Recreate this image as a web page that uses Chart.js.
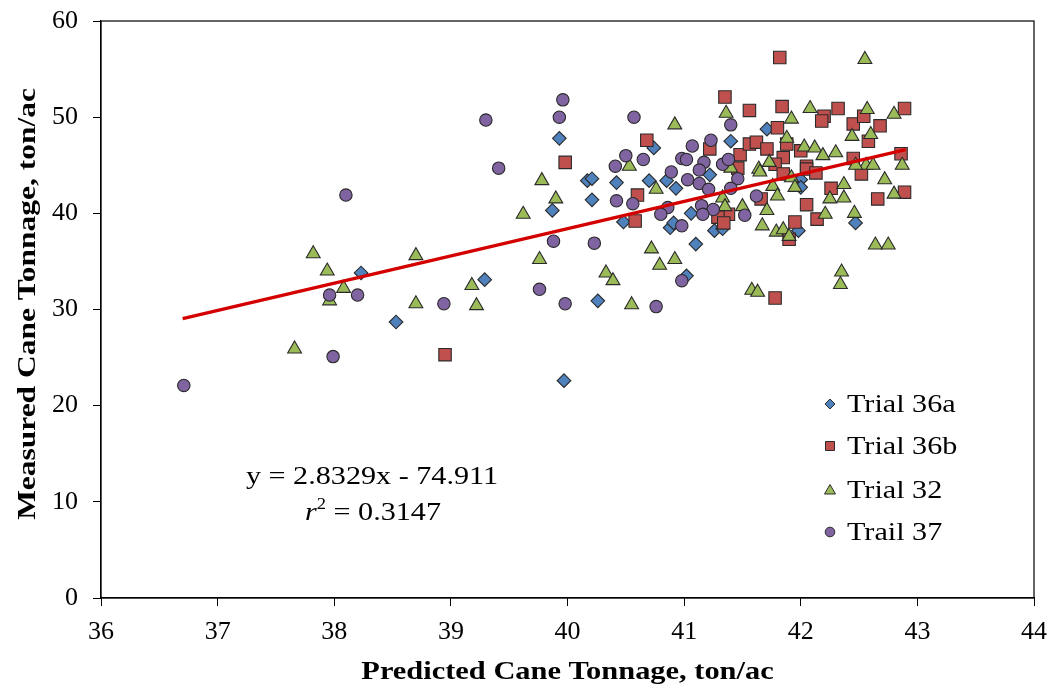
<!DOCTYPE html>
<html><head><meta charset="utf-8">
<script src="https://cdn.jsdelivr.net/npm/chart.js@4.4.0/dist/chart.umd.min.js"></script>
<style>html,body{margin:0;padding:0;background:#fff}#wrap{width:1054px;height:693px}</style>
</head><body><div id="wrap"><canvas id="c" width="1054" height="693"></canvas></div>
<script>
// ---- data ----
const xTicks = [36, 37, 38, 39, 40, 41, 42, 43, 44];
const yTicks = [0, 10, 20, 30, 40, 50, 60];

const t36aX = [38.23,38.53,39.29,39.97,40.26,39.93,39.87,40.17,40.21,40.21,40.42,40.48,40.74,40.70,40.85,40.93,41.22,41.40,41.06,40.88,40.91,41.26,41.33,41.10,41.02,41.71,42.00,42.00,41.98,42.47];
const t36aY = [33.8,28.7,33.1,22.6,30.9,47.8,40.3,43.4,43.6,41.4,43.2,39.1,46.8,43.4,43.4,42.6,44.0,47.5,40.0,38.5,39.0,38.2,38.4,36.8,33.5,48.75,43.5,42.7,38.2,39.0];

const t36bX = [38.95,39.98,40.58,40.60,40.68,41.22,41.35,41.56,41.48,41.56,41.62,41.46,41.38,41.29,41.34,41.82,41.84,42.32,42.20,42.18,42.45,42.54,42.89,42.68,42.58,41.80,41.88,41.71,42.00,41.85,42.45,41.78,42.86,42.05,41.85,42.05,42.13,42.26,42.05,42.14,41.66,41.95,41.90,42.89,42.66,41.78,42.52];
const t36bY = [25.3,45.3,39.2,41.9,47.6,46.7,52.1,50.7,46.1,47.2,47.4,44.7,39.9,39.6,39.0,56.2,51.1,50.9,50.1,49.6,49.3,50.1,50.9,49.1,47.5,48.9,47.2,46.7,46.5,45.8,45.7,45.1,46.2,44.9,44.1,44.6,44.2,42.6,40.9,39.4,41.5,39.1,37.3,42.2,41.5,31.2,44.1];

const t32X = [37.66,37.82,37.94,38.08,37.96,38.70,38.70,39.18,39.22,39.76,39.62,39.78,39.90,40.53,40.92,40.76,41.36,41.40,41.64,41.33,41.35,41.50,40.72,40.92,40.79,40.33,40.39,40.55,41.58,41.63,42.55,42.08,41.92,42.57,42.80,42.60,42.44,41.88,42.03,42.12,42.19,42.30,41.73,42.87,42.56,42.62,42.47,41.65,41.76,41.80,41.92,41.95,42.37,42.37,42.25,42.21,42.46,41.71,41.67,41.79,41.85,41.90,42.72,42.80,42.64,42.75,42.35,42.34];
const t32Y = [25.9,35.8,34.0,32.2,30.9,35.6,30.6,32.5,30.4,35.2,39.9,43.4,41.5,44.9,49.2,42.5,50.4,44.7,44.6,41.6,40.7,40.7,36.3,35.2,34.6,33.8,33.0,30.5,32.0,31.8,56.0,50.9,49.8,50.8,50.3,48.2,48.0,47.8,46.9,46.8,46.0,46.3,45.3,45.0,45.0,45.0,45.0,44.3,42.8,41.8,43.7,42.7,43.0,41.6,41.5,39.9,40.0,40.3,38.7,38.05,38.3,37.6,43.5,42.0,36.7,36.7,33.9,32.6];

const t37X = [36.71,37.96,38.20,37.99,38.10,38.94,39.30,39.41,39.96,39.93,40.57,39.88,40.23,39.76,39.98,40.41,40.50,40.42,40.56,40.65,40.89,41.03,40.98,41.02,41.07,41.17,41.13,41.23,41.13,41.21,41.40,41.33,41.38,41.46,41.40,41.62,41.15,41.25,40.86,40.80,41.52,41.16,40.98,40.98,40.76];
const t37Y = [22.1,31.5,31.5,25.1,41.9,30.6,49.7,44.7,51.8,50.0,50.0,37.1,36.9,32.1,30.6,44.9,46.0,41.3,41.0,45.6,44.3,43.5,45.7,45.6,47.0,45.3,44.5,47.6,43.1,42.5,49.2,45.1,45.6,43.6,42.6,41.8,40.8,40.4,40.6,39.9,39.8,39.9,38.7,33.0,30.3];

const seriesNames = ['Trial 36a', 'Trial 36b', 'Trial 32', 'Trail 37'];
const xTitle = 'Predicted Cane Tonnage, ton/ac';
const yTitle = 'Measured Cane Tonnage, ton/ac';
const trendSlope = 2.8329;
const trendIntercept = -74.911;
const trendXRange = [36.7, 42.9];
const equationText = 'y = 2.8329x - 74.911';
const r2Text = '0.3147';

// ---- build ----
const pts = (xs, ys) => xs.map((x, i) => ({x: x, y: ys[i]}));
const styles = [
  {bg: '#4F81BD', pt: 'rectRot', r: 6.8},
  {bg: '#C0504D', pt: 'rect', r: 8.8},
  {bg: '#9BBB59', pt: 'triangle', r: 8},
  {bg: '#8064A2', pt: 'circle', r: 6.2}
];
const seriesData = [pts(t36aX, t36aY), pts(t36bX, t36bY), pts(t32X, t32Y), pts(t37X, t37Y)];
const orders = [4, 3, 2, 1];
const datasets = seriesData.map((d, i) => ({
  label: seriesNames[i], data: d, type: 'scatter', order: orders[i],
  pointStyle: styles[i].pt, pointRadius: styles[i].r, pointHoverRadius: styles[i].r,
  backgroundColor: styles[i].bg, borderColor: '#2a2a2a', borderWidth: 1.1, showLine: false
}));
datasets.push({
  label: 'trend', type: 'line', order: 0,
  data: trendXRange.map(x => ({x: x, y: trendSlope * x + trendIntercept})),
  borderColor: '#D40000', borderWidth: 3.2, pointRadius: 0, fill: false
});

const SERIF = "'Liberation Serif', 'Times New Roman', serif";
const STRETCH = 1.16;

function stretchedText(ctx, text, x, y, sx, align) {
  ctx.save();
  ctx.translate(x, y);
  ctx.scale(sx, 1);
  ctx.textAlign = align || 'center';
  ctx.fillText(text, 0, 0);
  ctx.restore();
}

const overlay = {
  id: 'overlay',
  afterDraw(chart) {
    const ctx = chart.ctx, a = chart.chartArea;
    ctx.save();
    ctx.strokeStyle = '#000'; ctx.lineWidth = 1.2;
    ctx.strokeRect(a.left, a.top, a.right - a.left, a.bottom - a.top);

    // axis titles
    ctx.fillStyle = '#000';
    ctx.textBaseline = 'middle';
    ctx.font = 'bold 26px ' + SERIF;
    stretchedText(ctx, xTitle, (a.left + a.right) / 2, 672, 1.17);
    ctx.save();
    ctx.translate(28, 304);
    ctx.rotate(-Math.PI / 2);
    stretchedText(ctx, yTitle, 0, 0, 1.21);
    ctx.restore();

    // legend
    const lx = 830, lys = [404, 446, 490, 532];
    ctx.font = '26px ' + SERIF;
    seriesNames.forEach((n, i) => {
      const y = lys[i];
      ctx.beginPath();
      if (i === 0) { const s = 5; ctx.moveTo(lx, y - s); ctx.lineTo(lx + s, y); ctx.lineTo(lx, y + s); ctx.lineTo(lx - s, y); ctx.closePath(); }
      else if (i === 1) { ctx.rect(lx - 4.5, y - 4.5, 9, 9); }
      else if (i === 2) { ctx.moveTo(lx, y - 5.5); ctx.lineTo(lx + 5.5, y + 4); ctx.lineTo(lx - 5.5, y + 4); ctx.closePath(); }
      else { ctx.arc(lx, y, 4.8, 0, Math.PI * 2); }
      ctx.fillStyle = styles[i].bg; ctx.fill();
      ctx.strokeStyle = '#2a2a2a'; ctx.lineWidth = 1; ctx.stroke();
      ctx.fillStyle = '#000';
      stretchedText(ctx, n, 847, y + 1, STRETCH, 'left');
    });

    // equation
    ctx.font = '26px ' + SERIF;
    stretchedText(ctx, equationText, 372, 477, STRETCH, 'center');
    const p1 = 'r', p2 = '2', p3 = ' = ' + r2Text;
    ctx.font = 'italic 26px ' + SERIF; const w1 = ctx.measureText(p1).width * STRETCH;
    ctx.font = '16px ' + SERIF; const w2 = ctx.measureText(p2).width * STRETCH;
    ctx.font = '26px ' + SERIF; const w3 = ctx.measureText(p3).width * STRETCH;
    let sx = 373 - (w1 + w2 + w3) / 2;
    ctx.font = 'italic 26px ' + SERIF; stretchedText(ctx, p1, sx, 513, STRETCH, 'left'); sx += w1;
    ctx.font = '16px ' + SERIF; stretchedText(ctx, p2, sx, 505, STRETCH, 'left'); sx += w2;
    ctx.font = '26px ' + SERIF; stretchedText(ctx, p3, sx, 513, STRETCH, 'left');
    ctx.restore();
  }
};

new Chart(document.getElementById('c'), {
  type: 'scatter',
  data: {datasets: datasets},
  options: {
    responsive: false, animation: false, devicePixelRatio: 1,
    layout: {padding: {left: 0, right: 20, top: 21, bottom: 0}},
    plugins: {legend: {display: false}, tooltip: {enabled: false}},
    scales: {
      x: {
        type: 'linear', min: 36, max: 44,
        afterBuildTicks: s => { s.ticks = xTicks.map(v => ({value: v})); },
        afterFit: s => { s.height = 95; s.paddingLeft = 0; s.paddingRight = 0; },
        ticks: {color: '#000', font: {family: SERIF, size: 26}, padding: 11},
        grid: {drawOnChartArea: false, drawTicks: true, tickLength: 8, color: '#000'},
        border: {color: '#000', width: 1.2},
        title: {display: false}
      },
      y: {
        type: 'linear', min: 0, max: 60,
        afterBuildTicks: s => { s.ticks = yTicks.map(v => ({value: v})); },
        afterFit: s => { s.width = 101; s.paddingTop = 0; s.paddingBottom = 0; },
        ticks: {color: '#000', font: {family: SERIF, size: 26}, padding: 15},
        grid: {drawOnChartArea: false, drawTicks: true, tickLength: 8, color: '#000'},
        border: {color: '#000', width: 1.2},
        title: {display: false}
      }
    }
  },
  plugins: [overlay]
});
</script></body></html>
